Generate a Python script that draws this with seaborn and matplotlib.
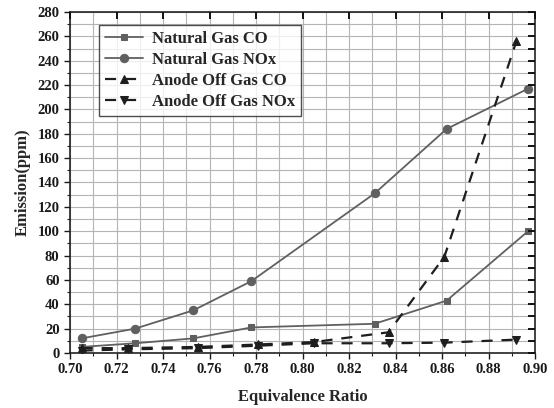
import matplotlib
matplotlib.use("Agg")
import matplotlib.pyplot as plt
import seaborn as sns
from matplotlib.ticker import MultipleLocator

# --- DATOS ---
ng_x = [0.705, 0.728, 0.753, 0.778, 0.831, 0.862, 0.897]
ng_co = [5, 8, 12, 21, 24, 43, 100]
ng_nox_x = [0.705, 0.728, 0.753, 0.778, 0.831, 0.862, 0.897]
ng_nox = [12, 20, 35, 59, 131, 184, 217]

aog_x = [0.705, 0.725, 0.755, 0.781, 0.805, 0.837, 0.861, 0.892]
aog_co = [4, 4, 5, 7, 9, 17, 79, 256]
aog_nox = [2, 3, 4, 6, 8, 8, 8.5, 11]

x_ticks = [0.70, 0.72, 0.74, 0.76, 0.78, 0.80, 0.82, 0.84, 0.86, 0.88, 0.90]

sns.set_theme(style="white")
plt.rcParams['font.family'] = ['Liberation Serif', 'DejaVu Serif']
plt.rcParams['font.weight'] = 'bold'

fig, ax = plt.subplots(figsize=(5.54, 4.08), dpi=100)
fig.subplots_adjust(left=0.1264, right=0.9657, top=0.9706, bottom=0.1348)

gris = '#606060'
negro = '#1e1e1e'

sns.lineplot(x=ng_x, y=ng_co, ax=ax, color=gris, marker='s', markersize=5,
             markeredgecolor=gris, linewidth=1.3, label='Natural Gas CO')
sns.lineplot(x=ng_nox_x, y=ng_nox, ax=ax, color=gris, marker='o', markersize=6,
             markeredgecolor=gris, linewidth=1.3, label='Natural Gas NOx')
sns.lineplot(x=aog_x, y=aog_co, ax=ax, color=negro, marker='^', markersize=6,
             markeredgecolor=negro, linewidth=1.6, linestyle=(0, (5, 4)),
             label='Anode Off Gas CO')
sns.lineplot(x=aog_x, y=aog_nox, ax=ax, color=negro, marker='v', markersize=6,
             markeredgecolor=negro, linewidth=1.6, linestyle=(0, (5, 4)),
             label='Anode Off Gas NOx')

ax.set_xlim(0.70, 0.90)
ax.set_ylim(0, 280)
ax.set_xticks(x_ticks)
ax.set_xticklabels([f'{t:.2f}' for t in x_ticks])
ax.yaxis.set_major_locator(MultipleLocator(20))
ax.xaxis.set_minor_locator(MultipleLocator(0.01))
ax.yaxis.set_minor_locator(MultipleLocator(10))

ax.grid(True, which='both', color='#b4b4b4', linewidth=0.8)
ax.set_axisbelow(True)
for s in ax.spines.values():
    s.set_color('#222222')
    s.set_linewidth(1.2)

ax.tick_params(axis='both', which='major', direction='out', length=4, width=1,
               labelsize=10.5, colors='#1a1a1a', bottom=True, left=True)
ax.tick_params(axis='both', which='minor', direction='out', length=2.5, width=0.8,
               bottom=True, left=True, colors='#1a1a1a')
for lab in ax.get_xticklabels() + ax.get_yticklabels():
    lab.set_fontweight('bold')

# marcas hacia dentro arriba y a la derecha
ax_top = ax.twiny()
ax_top.set_xlim(ax.get_xlim())
ax_top.set_xticks(x_ticks)
ax_top.tick_params(axis='x', which='major', top=True, bottom=False, direction='in',
                   length=5, width=1.4, labeltop=False, color='#111111')
ax_right = ax.twinx()
ax_right.set_ylim(ax.get_ylim())
ax_right.yaxis.set_major_locator(MultipleLocator(20))
ax_right.yaxis.set_minor_locator(MultipleLocator(10))
ax_right.tick_params(axis='y', which='both', right=True, left=False, direction='in',
                     length=5, width=1.4, labelright=False, color='#111111')
for extra in (ax_top, ax_right):
    extra.grid(False)
    for s in extra.spines.values():
        s.set_visible(False)

ax.set_xlabel('Equivalence Ratio', fontsize=12, fontweight='bold', labelpad=9)
ax.set_ylabel('Emission(ppm)', fontsize=12, fontweight='bold', labelpad=5)

leg = ax.legend(loc='upper left', bbox_to_anchor=(0.045, 0.985), fontsize=12,
                frameon=True, fancybox=False, edgecolor='#222222',
                handlelength=2.3, borderpad=0.35, labelspacing=0.3,
                handletextpad=0.5)
leg.get_frame().set_linewidth(1.0)
for t in leg.get_texts():
    t.set_fontweight('bold')

plt.savefig('out.png', dpi=100)
